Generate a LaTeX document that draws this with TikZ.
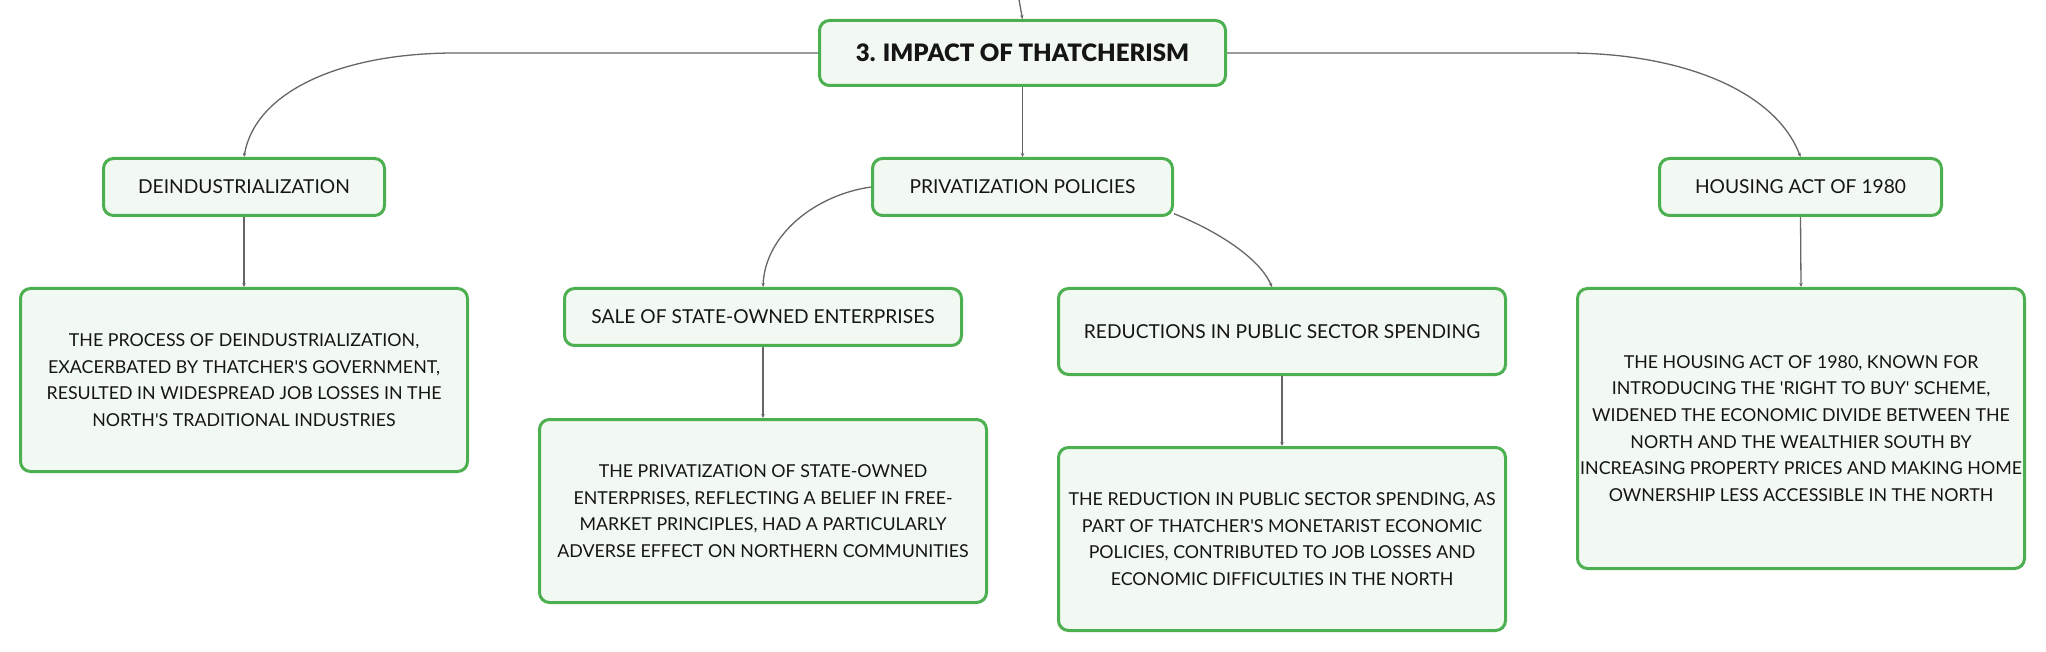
\documentclass[tikz,border=0pt]{standalone}
\usepackage{fontspec}
\setmainfont{Lato}
\newfontfamily\blackfont{Lato Black}
\usetikzlibrary{arrows.meta,calc}
\definecolor{boxgreen}{HTML}{4CAF50}
\definecolor{boxfill}{HTML}{F2F9F3}
\definecolor{linegray}{HTML}{666666}
\definecolor{txt}{HTML}{151515}
\newcommand{\ap}{\textquotesingle}
\begin{document}
\begin{tikzpicture}[x=1pt,y=-1pt,
  box/.style={draw=boxgreen, line width=3pt, fill=boxfill, rounded corners=10pt,
    inner sep=0pt, align=center, text=txt, font=\fontsize{19.2}{26.7}\selectfont},
  detail/.style={box, minimum width=447pt, font=\fontsize{17.8}{26.7}\selectfont},
  conn/.style={draw=linegray, line width=1.3pt, -{Stealth[length=4pt,width=3.5pt]}}]
\useasboundingbox (0,0) rectangle (2046,652);

\node[box, minimum width=406pt, minimum height=65pt, font=\blackfont\fontsize{24}{30}\selectfont] (root) at (1022.5,53) {3. IMPACT OF THATCHERISM};
\node[box, minimum width=300pt, minimum height=57pt] (priv) at (1022.5,187) {PRIVATIZATION POLICIES};
\node[box, minimum width=281pt, minimum height=57pt] (deind) at (244,187) {DEINDUSTRIALIZATION};
\node[box, minimum width=282pt, minimum height=57pt] (house) at (1800.5,187) {HOUSING ACT OF 1980};

\node[detail, minimum height=183pt] (deinddet) at (244,380) {THE PROCESS OF DEINDUSTRIALIZATION,\\EXACERBATED BY THATCHER\ap S GOVERNMENT,\\RESULTED IN WIDESPREAD JOB LOSSES IN THE\\NORTH\ap S TRADITIONAL INDUSTRIES};

\node[box, minimum width=397pt, minimum height=57pt] (sale) at (763,317) {SALE OF STATE-OWNED ENTERPRISES};
\node[detail, minimum height=183pt] (saledet) at (763,511) {THE PRIVATIZATION OF STATE-OWNED\\ENTERPRISES, REFLECTING A BELIEF IN FREE-\\MARKET PRINCIPLES, HAD A PARTICULARLY\\ADVERSE EFFECT ON NORTHERN COMMUNITIES};

\node[box, minimum width=447pt, minimum height=86pt] (red) at (1282,331.5) {REDUCTIONS IN PUBLIC SECTOR SPENDING};
\node[detail, minimum height=183pt] (reddet) at (1282,539) {THE REDUCTION IN PUBLIC SECTOR SPENDING, AS\\PART OF THATCHER\ap S MONETARIST ECONOMIC\\POLICIES, CONTRIBUTED TO JOB LOSSES AND\\ECONOMIC DIFFICULTIES IN THE NORTH};

\node[detail, minimum height=280pt] (housedet) at (1801,428.5) {THE HOUSING ACT OF 1980, KNOWN FOR\\INTRODUCING THE \ap RIGHT TO BUY\ap\ SCHEME,\\WIDENED THE ECONOMIC DIVIDE BETWEEN THE\\NORTH AND THE WEALTHIER SOUTH BY\\INCREASING PROPERTY PRICES AND MAKING HOME\\OWNERSHIP LESS ACCESSIBLE IN THE NORTH};

\coordinate (topin) at (1018.5,-3);
\draw[conn] (topin) -- (root.north);
\draw[conn] (root.west) -- (455,53) .. controls (340,53) and (255,92) .. (deind.north);
\draw[conn] (root.east) -- (1567,53) .. controls (1680,53) and (1775,90) .. (house.north);
\draw[conn] (root.south) -- (priv.north);
\draw[conn] (priv.west) .. controls (815,195) and (765,235) .. (sale.north);
\draw[conn] (priv.-10) .. controls (1210,228) and (1258,255) .. ($(red.north)+(-10,0)$);
\draw[conn] (deind.south) -- (deinddet.north);
\draw[conn] (sale.south) -- (saledet.north);
\draw[conn] (red.south) -- (reddet.north);
\draw[conn] (house.south) -- (housedet.north);
\end{tikzpicture}
\end{document}
